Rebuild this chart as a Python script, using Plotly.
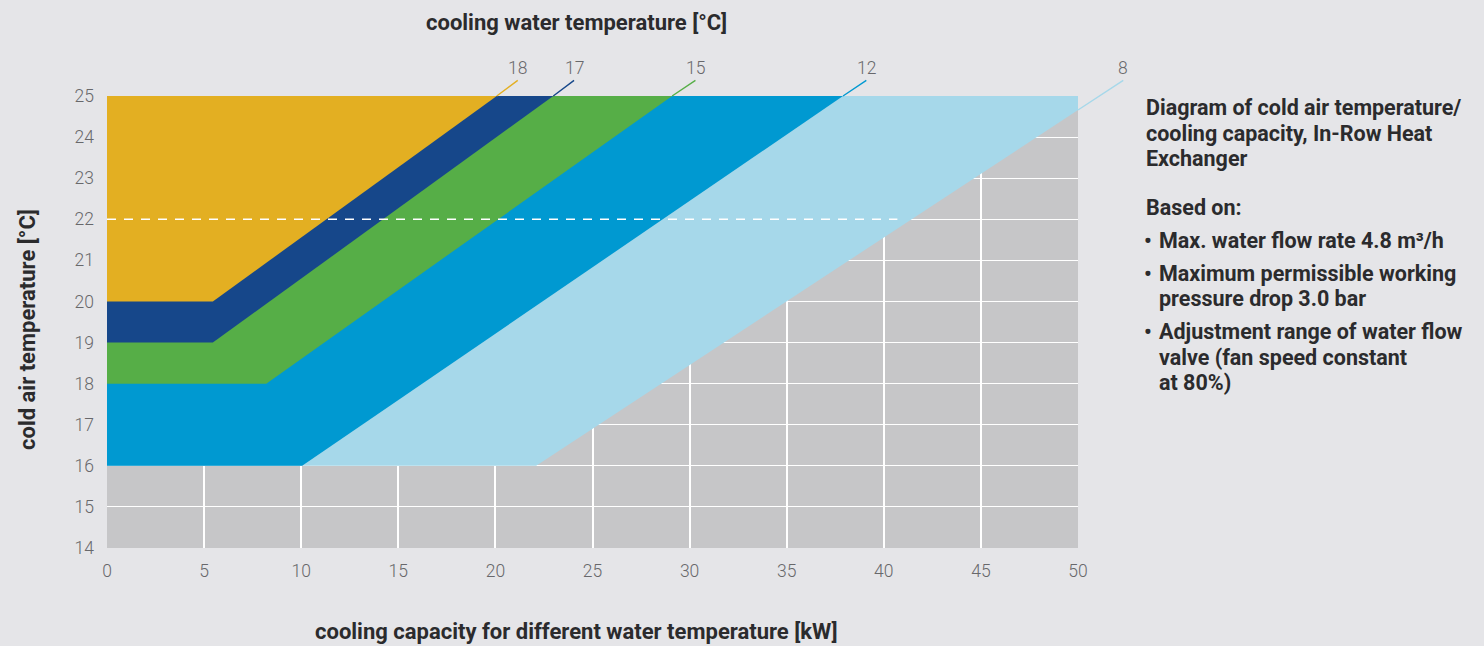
import plotly.graph_objects as go

# ---------------- data ----------------
x_tick_vals = [0, 5, 10, 15, 20, 25, 30, 35, 40, 45, 50]
y_tick_vals = [14, 15, 16, 17, 18, 19, 20, 21, 22, 23, 24, 25]

water_temps = ["18", "17", "15", "12", "8"]          # cooling water temperature [°C]
zone_colors = ["#E3AF22", "#16478A", "#56AE47", "#0099D1", "#A6D8EA"]
flat_air_temp = [20.0, 19.0, 18.0, 16.0, 16.0]        # cold air temp of flat part
knee_kw = [5.45, 5.45, 8.2, 10.05, 22.1]               # end of flat part [kW]
end_kw = [20.07, 22.98, 29.1, 37.9, 50.0]              # where the limit leaves the chart
end_air_temp = [25.0, 25.0, 25.0, 25.0, 24.66]
label_kw = [21.15, 24.05, 30.3, 39.1, 52.33]           # end of label leader lines
label_air_temp = 25.38

ref_air_temp = 22.0
ref_line_end_kw = 40.7

x_range = [0, 50]
y_range = [14, 25]

# ---------------- layout constants ----------------
W, H = 1484, 646
ML, MR, MT, MB = 107, 406, 96, 98
PW, PH = W - ML - MR, H - MT - MB

def px_x(px):
    return (px - ML) / PW

def px_y(py):
    return (H - MB - py) / PH

TEXT = "#2B2B2D"
TICK = "#68686B"
BG = "#E5E5E8"
PLOT_BG = "#C6C6C8"
TITLE_SIZE = 22
SIDE_SIZE = 21.5
TICK_SIZE = 17.5

fig = go.Figure()

# zones, largest (8 °C) first so smaller zones sit on top
for i in reversed(range(len(water_temps))):
    xs = [x_range[0], x_range[0], knee_kw[i], end_kw[i], end_kw[i], x_range[0]]
    ys = [y_range[1], flat_air_temp[i], flat_air_temp[i], end_air_temp[i], y_range[1], y_range[1]]
    fig.add_trace(go.Scatter(
        x=xs, y=ys, mode="lines", fill="toself", fillcolor=zone_colors[i],
        line=dict(width=0, color=zone_colors[i]), hoverinfo="skip", showlegend=False,
        name=water_temps[i] + " °C",
    ))

# dashed reference line at 22 °C
fig.add_trace(go.Scatter(
    x=[x_range[0], ref_line_end_kw], y=[ref_air_temp, ref_air_temp], mode="lines",
    line=dict(color="white", width=1.6, dash="9px,8px"), hoverinfo="skip", showlegend=False,
))

annotations = []
# water temperature labels with leader lines
for i, t in enumerate(water_temps):
    annotations.append(dict(
        x=end_kw[i], y=end_air_temp[i], xref="x", yref="y",
        ax=label_kw[i], ay=label_air_temp, axref="x", ayref="y",
        text=t, showarrow=True, arrowhead=0, arrowwidth=1.4, arrowcolor=zone_colors[i],
        standoff=0, startstandoff=0, xanchor="center", yanchor="bottom",
        font=dict(family="Roboto", size=TICK_SIZE, color=TICK, weight=300),
    ))

# titles
annotations.append(dict(
    x=px_x(576), y=px_y(23), xref="paper", yref="paper", showarrow=False,
    text="<b>cooling water temperature [°C]</b>", xanchor="center", yanchor="middle",
    font=dict(family="Roboto", size=TITLE_SIZE, color=TEXT),
))
annotations.append(dict(
    x=px_x(576), y=px_y(631), xref="paper", yref="paper", showarrow=False,
    text="<b>cooling capacity for different water temperature [kW]</b>",
    xanchor="center", yanchor="middle",
    font=dict(family="Roboto", size=TITLE_SIZE, color=TEXT),
))
annotations.append(dict(
    x=px_x(27), y=px_y(330), xref="paper", yref="paper", showarrow=False,
    text="<b>cold air temperature [°C]</b>", textangle=-90,
    xanchor="center", yanchor="middle",
    font=dict(family="Roboto", size=TITLE_SIZE, color=TEXT),
))

# side note
side_lines = [
    (107.0, None, "Diagram of cold air temperature/"),
    (133.0, None, "cooling capacity, In-Row Heat"),
    (158.8, None, "Exchanger"),
    (207.0, None, "Based on:"),
    (240.3, "•", "Max. water flow rate 4.8 m³/h"),
    (273.5, "•", "Maximum permissible working"),
    (298.3, None, "pressure drop 3.0 bar"),
    (331.5, "•", "Adjustment range of water flow"),
    (357.0, None, "valve (fan speed constant"),
    (382.5, None, "at 80%)"),
]
for j, (py, bullet, txt) in enumerate(side_lines):
    indent = 1157 if (bullet or j in (6, 8, 9)) else 1144
    annotations.append(dict(
        x=px_x(indent), y=px_y(py), xref="paper", yref="paper", showarrow=False,
        text="<b>" + txt + "</b>", xanchor="left", yanchor="middle",
        font=dict(family="Roboto", size=SIDE_SIZE, color=TEXT),
    ))
    if bullet:
        annotations.append(dict(
            x=px_x(1142), y=px_y(py), xref="paper", yref="paper", showarrow=False,
            text="<b>•</b>", xanchor="left", yanchor="middle",
            font=dict(family="Roboto", size=SIDE_SIZE, color=TEXT),
        ))

fig.update_layout(
    width=W, height=H, autosize=False,
    margin=dict(l=ML, r=MR, t=MT, b=MB, pad=0),
    paper_bgcolor=BG, plot_bgcolor=PLOT_BG,
    showlegend=False,
    annotations=annotations,
    xaxis=dict(
        range=x_range, tickvals=x_tick_vals, ticktext=[str(v) for v in x_tick_vals],
        showgrid=True, gridcolor="white", gridwidth=1.6, zeroline=False, showline=False,
        ticks="", ticklabelstandoff=10,
        tickfont=dict(family="Roboto", size=TICK_SIZE, color=TICK, weight=300), fixedrange=True,
    ),
    yaxis=dict(
        range=y_range, tickvals=y_tick_vals, ticktext=[str(v) for v in y_tick_vals],
        showgrid=True, gridcolor="white", gridwidth=1.4, zeroline=False, showline=False,
        ticks="", ticklabelstandoff=12,
        tickfont=dict(family="Roboto", size=TICK_SIZE, color=TICK, weight=300), fixedrange=True,
    ),
)

fig.write_html("out.html", config={"displayModeBar": False},
               post_script="document.body.style.margin='0';document.body.style.overflow='hidden';")
